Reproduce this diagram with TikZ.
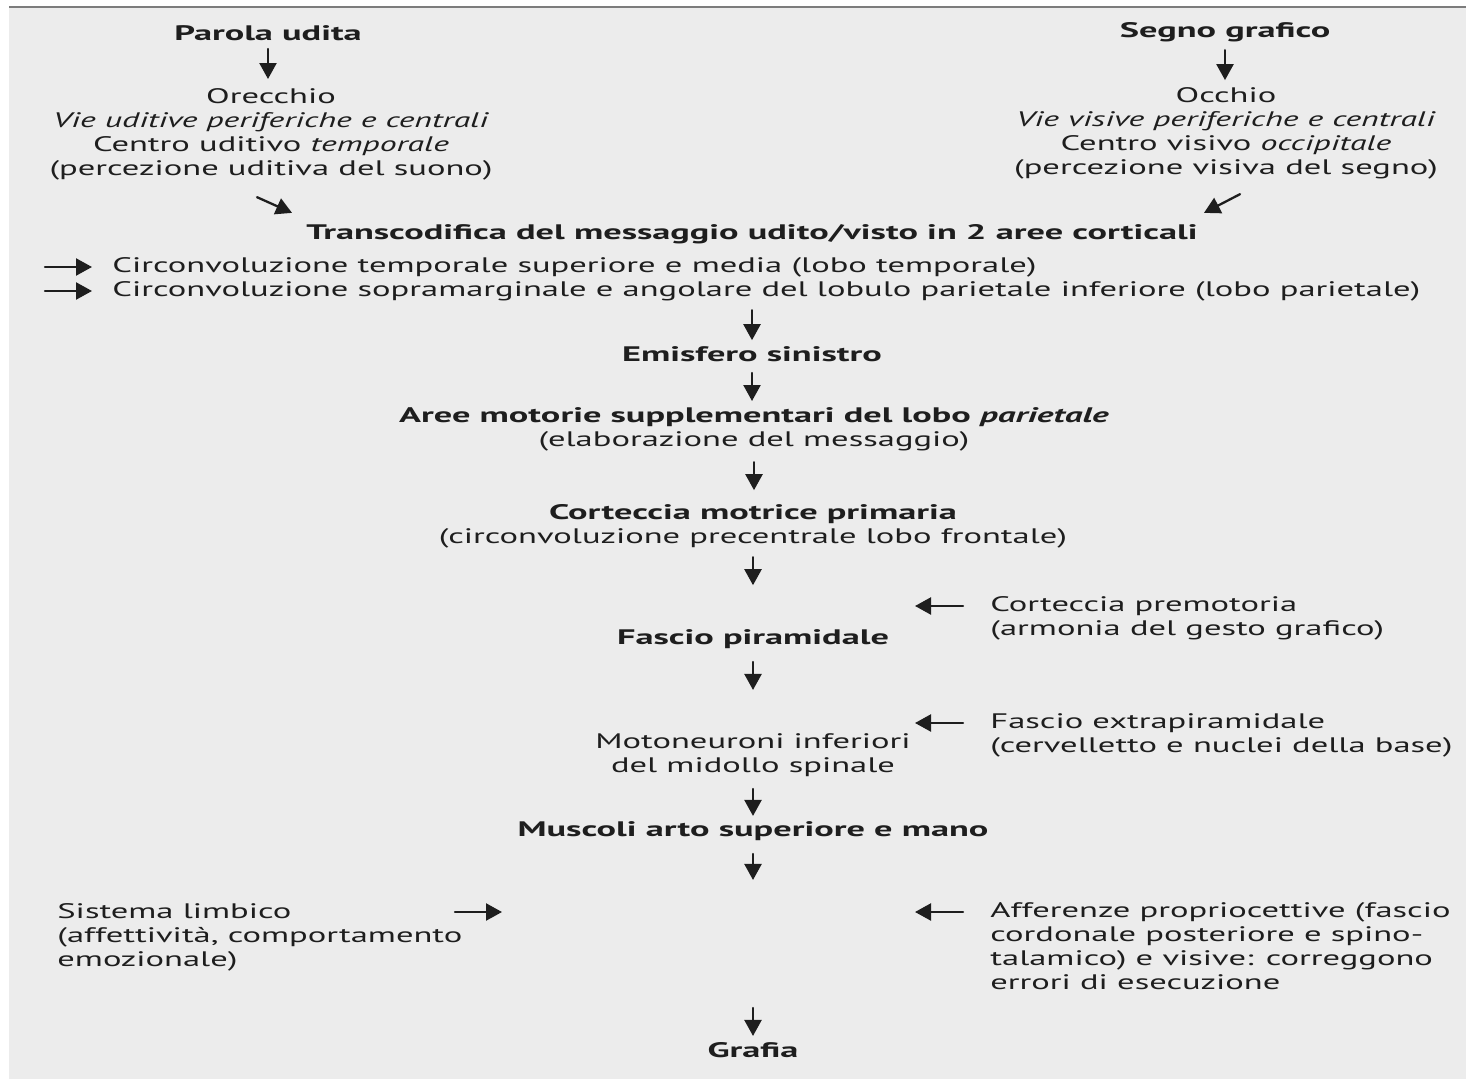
\documentclass[tikz,border=0pt]{standalone}
\usepackage{fontspec}
\setmainfont{PT Sans}[
  UprightFeatures={FakeStretch=1.645},
  BoldFeatures={FakeStretch=1.73},
  ItalicFeatures={FakeStretch=1.61},
  BoldItalicFeatures={FakeStretch=1.68}]
\usetikzlibrary{arrows.meta}
\definecolor{paper}{HTML}{ECECEC}
\definecolor{ink}{HTML}{1E1E1E}
\definecolor{rule}{HTML}{7C7C7C}

\begin{document}
\begin{tikzpicture}[x=0.5pt,y=-0.5pt,line cap=round,line join=round,
  txt/.style={inner sep=0pt,align=center,text=ink,font=\fontsize{10.5}{12}\selectfont},
  hd/.style={txt,font=\fontsize{10.5}{12}\selectfont\bfseries},
  side/.style={txt,align=left,anchor=west},
  arr/.style={draw=ink,line width=1.15pt,-{Triangle[length=8pt,width=8.5pt]}}]
  \useasboundingbox (0,0) rectangle (1466,1079);
  \fill[white] (0,0) rectangle (1466,1079);
  \fill[paper] (9,7) rectangle (1466,1079);
  \draw[rule,line width=1pt,line cap=butt] (9,7.5) -- (1466,7.5);

  % two inputs
  \node[hd] (parola) at (268,33) {Parola udita};
  \node[txt] (orecchio) at (271,134) {Orecchio\\\textit{Vie uditive periferiche e centrali}\\Centro uditivo \textit{temporale}\\(percezione uditiva del suono)};
  \node[hd] (segno) at (1225,32) {Segno grafico};
  \node[txt] (occhio) at (1226,133) {Occhio\\\textit{Vie visive periferiche e centrali}\\Centro visivo \textit{occipitale}\\(percezione visiva del segno)};

  % main column
  \node[hd] (transc) at (752,234) {Transcodifica del messaggio udito/visto in 2 aree corticali};
  \node[side] (circA) at (112,267) {Circonvoluzione temporale superiore e media (lobo temporale)};
  \node[side] (circB) at (112,291) {Circonvoluzione sopramarginale e angolare del lobulo parietale inferiore (lobo parietale)};
  \node[hd] (emisfero) at (752,354) {Emisfero sinistro};
  \node[txt] (aree) at (754,429) {\textbf{Aree motorie supplementari del lobo \textit{parietale}}\\(elaborazione del messaggio)};
  \node[txt] (motrice) at (753,526) {\textbf{Corteccia motrice primaria}\\(circonvoluzione precentrale lobo frontale)};
  \node[hd] (piram) at (753,639) {Fascio piramidale};
  \node[txt] (motoneur) at (753,755) {Motoneuroni inferiori\\del midollo spinale};
  \node[hd] (muscoli) at (753,831) {Muscoli arto superiore e mano};
  \node[hd] (grafia) at (753,1050) {Grafia};

  % side inputs
  \node[side] (premot) at (990,618) {Corteccia premotoria\\(armonia del gesto grafico)};
  \node[side] (extra) at (990,735) {Fascio extrapiramidale\\(cervelletto e nuclei della base)};
  \node[side] (limbico) at (57,937) {Sistema limbico\\(affettività, comportamento\\emozionale)};
  \node[side] (affer) at (990,946) {Afferenze propriocettive (fascio\\cordonale posteriore e spino-\\talamico) e visive: correggono\\errori di esecuzione};
  \coordinate (mid2) at (753,1008);

  \draw[arr] ([yshift=-4pt]parola.south) -- ++(0,30);
  \draw[arr] ([yshift=-4pt]segno.south) -- ++(0,30);
  \draw[arr] ([xshift=-7pt,yshift=-8.5pt]orecchio.south) -- ([xshift=-7pt,yshift=5.5pt]transc.north west);
  \draw[arr] ([xshift=7pt,yshift=-7.5pt]occhio.south) -- ([xshift=3pt,yshift=5.5pt]transc.north east);
  \draw[arr] ([xshift=-33.5pt]circA.west) -- ([xshift=-10pt]circA.west);
  \draw[arr] ([xshift=-33.5pt]circB.west) -- ([xshift=-10pt]circB.west);
  \draw[arr] ([yshift=-4.5pt]emisfero |- circB.south) -- ++(0,30);
  \draw[arr] ([yshift=-5.5pt]emisfero.south) -- ++(0,28);
  \draw[arr] ([yshift=-5.5pt]aree.south) -- ++(0,28);
  \draw[arr] ([yshift=-4.5pt]motrice.south) -- ++(0,28);
  \draw[arr] ([yshift=-6.5pt]piram.south) -- ++(0,28);
  \draw[arr] ([yshift=-6pt]motoneur.south) -- ++(0,27);
  \draw[arr] ([yshift=-6.5pt]muscoli.south) -- ++(0,26);
  \draw[arr] (mid2) -- ([yshift=3pt]grafia.north);
  \draw[arr] ([xshift=-13.5pt,yshift=6pt]premot.west) -- ([xshift=-37.5pt,yshift=6pt]premot.west);
  \draw[arr] ([xshift=-13.5pt,yshift=6pt]extra.west) -- ([xshift=-37.5pt,yshift=6pt]extra.west);
  \draw[arr] ([xshift=-13.5pt,yshift=17pt]affer.west) -- ([xshift=-37.5pt,yshift=17pt]affer.west);
  \draw[arr] ([xshift=199pt,yshift=12.5pt]limbico.west) -- ([xshift=222.5pt,yshift=12.5pt]limbico.west);
\end{tikzpicture}
\end{document}
